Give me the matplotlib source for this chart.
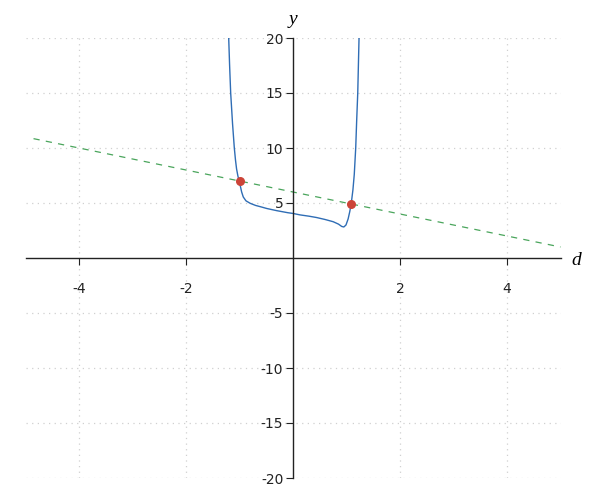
import numpy as np
import matplotlib
matplotlib.use("Agg")
import matplotlib.pyplot as plt

plt.rcParams["axes.unicode_minus"] = False

# curve
curve_d = [-1.202, -1.185, -1.165, -1.13, -1.097, -1.075, -1.055, -1.03, -1.003, -0.96,
           -0.93, -0.88, -0.80, -0.70, -0.60, -0.49, -0.30, -0.10, 0.00, 0.13,
           0.30, 0.44, 0.60, 0.75, 0.85, 0.91, 0.95, 0.99, 1.03, 1.06,
           1.087, 1.12, 1.145, 1.172, 1.19, 1.21, 1.234]
curve_y = [20.0, 17.5, 15.0, 12.2, 10.0, 8.9, 8.1, 7.45, 6.95, 6.0,
           5.55, 5.2, 4.97, 4.78, 4.65, 4.5, 4.3, 4.12, 4.05, 3.92,
           3.8, 3.68, 3.5, 3.3, 3.08, 2.87, 2.82, 3.0, 3.55, 4.2,
           4.9, 6.2, 7.6, 10.0, 12.5, 15.0, 20.0]

# dashed line y = 6 - d
line_d = [-4.85, 5.0]
line_y = [10.85, 1.0]

# intersection points
pts_d = [-1.0, 1.087]
pts_y = [7.0, 4.913]

xticks = [-4, -2, 2, 4]
yticks = [-20, -15, -10, -5, 5, 10, 15, 20]

fig = plt.figure(figsize=(6, 5), dpi=100)
ax = fig.add_axes([0.0425, 0.044, 0.8917, 0.88])
ax.set_xlim(-5, 5)
ax.set_ylim(-20, 20)

ax.spines["left"].set_position(("data", 0))
ax.spines["bottom"].set_position(("data", 0))
ax.spines["top"].set_visible(False)
ax.spines["right"].set_visible(False)
for s in ("left", "bottom"):
    ax.spines[s].set_color("#222222")
    ax.spines[s].set_linewidth(1.0)

ax.set_xticks(xticks)
ax.set_yticks(yticks)
ax.set_xticklabels([str(t) for t in xticks])
ax.set_yticklabels([str(t) for t in yticks])
ax.tick_params(axis="x", direction="out", length=5, pad=12, labelsize=10,
               colors="#222222")
ax.tick_params(axis="y", direction="out", length=5, pad=2, labelsize=10,
               colors="#222222")

ax.grid(True, color="#d0d0d0", linestyle=(0, (1, 3.5)), linewidth=0.9)
ax.set_axisbelow(True)

ax.plot(line_d, line_y, color="#4aa55c", linestyle=(0, (5, 5)), linewidth=0.9)
ax.plot(curve_d, curve_y, color="#2f6db5", linewidth=1.0)
ax.scatter(pts_d, pts_y, s=30, color="#cc4438", zorder=5)

ax.annotate("y", xy=(0, 20), xytext=(0, 13), textcoords="offset points",
            ha="center", va="center", fontsize=14, style="italic",
            family="Liberation Serif", annotation_clip=False)
ax.annotate("d", xy=(5, 0), xytext=(11, -2), textcoords="offset points",
            ha="center", va="center", fontsize=14, style="italic",
            family="Liberation Serif", annotation_clip=False)

fig.savefig("out.png", dpi=100)
